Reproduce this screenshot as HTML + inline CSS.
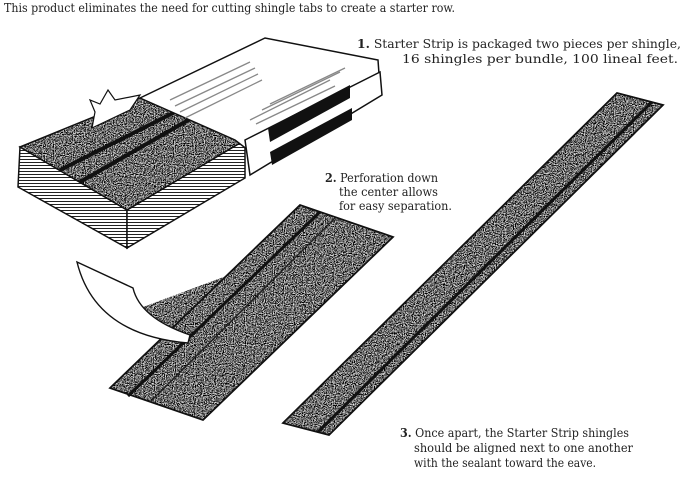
<!DOCTYPE html>
<html><head><meta charset="utf-8"><style>
html,body{margin:0;padding:0;background:#fff;width:695px;height:481px;overflow:hidden}
svg{display:block}
text{font-family:"DejaVu Serif","Liberation Serif",serif;fill:#222;font-size:12px}
</style></head><body>
<svg width="695" height="481" viewBox="0 0 695 481" xmlns="http://www.w3.org/2000/svg">
<defs>
<filter id="gr" x="0" y="0" width="100%" height="100%">
<feTurbulence type="fractalNoise" baseFrequency="0.9" numOctaves="2" seed="3" result="n"/>
<feColorMatrix type="saturate" values="0" in="n" result="g"/>
<feComponentTransfer in="g"><feFuncR type="linear" slope="3.2" intercept="-1.4"/><feFuncG type="linear" slope="3.2" intercept="-1.4"/><feFuncB type="linear" slope="3.2" intercept="-1.4"/><feFuncA type="linear" slope="0" intercept="1"/></feComponentTransfer>
</filter>
<pattern id="lines" width="4" height="3" patternUnits="userSpaceOnUse"><rect width="4" height="3" fill="#fff"/><rect width="4" height="1" fill="#222"/></pattern>
<clipPath id="c1"><polygon points="20,147 140,98 245,140 127,210"/></clipPath>
<clipPath id="c2"><polygon points="110,388 300,205 393,237 203,420"/><polygon points="143,307 229,275 168,336 158,330"/></clipPath>
<clipPath id="c3"><polygon points="283,423 617,93 663,105 329,435"/></clipPath>
</defs>

<text x="4" y="12" font-size="11" textLength="451" lengthAdjust="spacingAndGlyphs">This product eliminates the need for cutting shingle tabs to create a starter row.</text>

<polygon points="20,147 127,210 127,248 18,187" fill="url(#lines)" stroke="#111" stroke-width="1.5"/>
<polygon points="127,210 245,140 245,178 127,248" fill="url(#lines)" stroke="#111" stroke-width="1.5"/>
<g clip-path="url(#c1)"><rect x="0" y="90" width="260" height="130" filter="url(#gr)"/></g>
<polygon points="20,147 140,98 245,140 127,210" fill="none" stroke="#111" stroke-width="1.5"/>
<line x1="60" y1="170" x2="175" y2="112" stroke="#111" stroke-width="4"/>
<line x1="80" y1="182" x2="192" y2="118" stroke="#111" stroke-width="4"/>
<path d="M92,128 L95,112 L90,100 L100,104 L108,90 L115,100 L140,95 L130,110 Z" fill="#fff" stroke="#111" stroke-width="1.2"/>
<polygon points="140,98 265,38 378,60 380,88 248,150 235,140" fill="#fff" stroke="#111" stroke-width="1.5"/>
<polygon points="245,140 380,72 382,95 250,175" fill="#fff" stroke="#111" stroke-width="1.5"/>
<polygon points="268,128 350,85 350,98 270,142" fill="#111"/>
<polygon points="270,152 352,108 352,120 272,165" fill="#111"/>
<g stroke="#888" stroke-width="1.3">
<line x1="170" y1="100" x2="250" y2="62"/><line x1="175" y1="106" x2="255" y2="68"/><line x1="180" y1="112" x2="258" y2="74"/>
<line x1="185" y1="118" x2="262" y2="80"/><line x1="250" y1="120" x2="330" y2="80"/><line x1="256" y1="124" x2="335" y2="86"/>
<line x1="262" y1="110" x2="340" y2="72"/><line x1="270" y1="104" x2="345" y2="68"/>
</g>

<g clip-path="url(#c2)"><rect x="100" y="200" width="300" height="225" filter="url(#gr)"/></g>
<polygon points="110,388 300,205 393,237 203,420" fill="none" stroke="#111" stroke-width="1.8"/>
<line x1="128" y1="396" x2="320" y2="212" stroke="#111" stroke-width="3"/>
<line x1="150" y1="402" x2="335" y2="218" stroke="#222" stroke-width="1.5"/>
<path d="M77,262 L133,288 Q140,318 190,335 L188,343 Q95,335 77,262 Z" fill="#fff" stroke="#111" stroke-width="1.4"/>

<g clip-path="url(#c3)"><rect x="280" y="90" width="390" height="350" filter="url(#gr)"/></g>
<polygon points="283,423 617,93 663,105 329,435" fill="none" stroke="#111" stroke-width="1.8"/>
<line x1="318" y1="432" x2="652" y2="102" stroke="#111" stroke-width="3"/>

<text x="357" y="48" textLength="324" lengthAdjust="spacingAndGlyphs"><tspan font-weight="bold">1.</tspan> Starter Strip is packaged two pieces per shingle,</text>
<text x="402" y="63" textLength="276" lengthAdjust="spacingAndGlyphs">16 shingles per bundle, 100 lineal feet.</text>
<text x="325" y="182" textLength="113" lengthAdjust="spacingAndGlyphs"><tspan font-weight="bold">2.</tspan> Perforation down</text>
<text x="339" y="196" textLength="99" lengthAdjust="spacingAndGlyphs">the center allows</text>
<text x="339" y="210" textLength="113" lengthAdjust="spacingAndGlyphs">for easy separation.</text>
<text x="400" y="437" textLength="229" lengthAdjust="spacingAndGlyphs"><tspan font-weight="bold">3.</tspan> Once apart, the Starter Strip shingles</text>
<text x="414" y="452" textLength="219" lengthAdjust="spacingAndGlyphs">should be aligned next to one another</text>
<text x="414" y="467" textLength="182" lengthAdjust="spacingAndGlyphs">with the sealant toward the eave.</text>
</svg>
</body></html>
